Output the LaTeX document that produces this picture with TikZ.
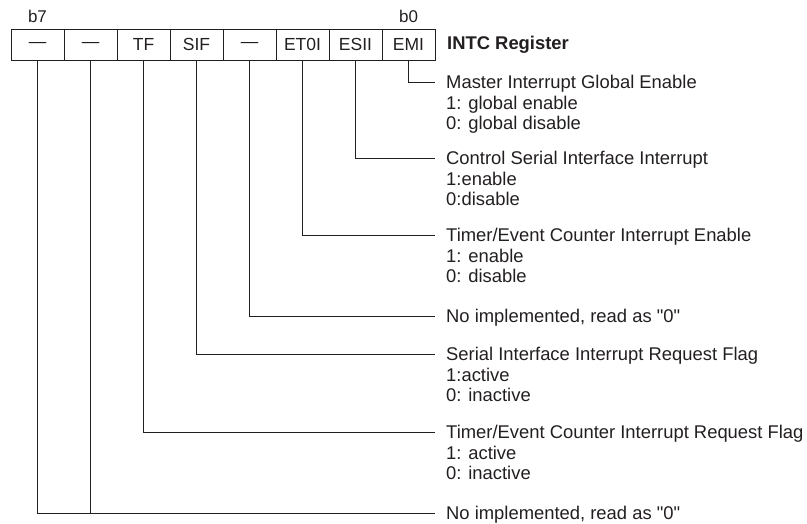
\documentclass[tikz,border=0pt]{standalone}
\usepackage{fontspec}
\setmainfont{Liberation Sans}
\definecolor{LineColor}{RGB}{35,31,32}
\definecolor{TextColor}{RGB}{35,31,32}
\usepackage{tikz}
\usetikzlibrary{positioning}
\tikzstyle{wire} = [line width=0.9pt, LineColor]
\tikzset{
  bitcell/.style={draw=LineColor, line width=0.9pt, rectangle, minimum width=53pt, minimum height=30.5pt, inner sep=0pt, outer sep=0pt, text=TextColor, font=\fontsize{17.5}{20}\selectfont},
  bitlabel/.style={inner sep=0pt, text=TextColor, font=\fontsize{17}{20}\selectfont},
  regname/.style={inner sep=0pt, text=TextColor, font=\fontsize{18.4}{20}\selectfont\bfseries},
  bitdesc/.style={anchor=north west, inner sep=0pt, align=left, text=TextColor, font=\fontsize{18.4}{20.5}\selectfont}
}

\begin{document}
\begin{tikzpicture}[x=1pt, y=-1pt]
  \useasboundingbox (0,0) rectangle (807,524);

  % Register cells, b7 ... b0
  \node[bitcell] (b7) at (37.5,44.75) {\textemdash};
  \node[bitcell, right=0pt of b7] (b6) {\textemdash};
  \node[bitcell, right=0pt of b6] (b5) {TF};
  \node[bitcell, right=0pt of b5] (b4) {SIF};
  \node[bitcell, right=0pt of b4] (b3) {\textemdash};
  \node[bitcell, right=0pt of b3] (b2) {ET0I};
  \node[bitcell, right=0pt of b2] (b1) {ESII};
  \node[bitcell, right=0pt of b1] (b0) {EMI};

  % Bit numbers
  \node[bitlabel, above=6.5pt of b7] (msb) {b7};
  \node[bitlabel, above=6.5pt of b0] (lsb) {b0};

  % Register name
  \node[regname, right=12pt of b0] (reg) {INTC Register};

  % Ends of the lead lines
  \coordinate (emi end) at (435,82);
  \coordinate (esii end) at (435,158);
  \coordinate (etoi end) at (435,235);
  \coordinate (nib3 end) at (435,316);
  \coordinate (sif end) at (435,354);
  \coordinate (tf end) at (435,432);
  \coordinate (nib76 end) at (435,513);

  % Bit descriptions
  \node[bitdesc] (emi text) at ([xshift=11pt, yshift=6.6pt]emi end)
    {Master Interrupt Global Enable\\1: global enable\\0: global disable};
  \node[bitdesc] (esii text) at ([xshift=11pt, yshift=6.6pt]esii end)
    {Control Serial Interface Interrupt\\1:enable\\0:disable};
  \node[bitdesc] (etoi text) at ([xshift=11pt, yshift=6.6pt]etoi end)
    {Timer/Event Counter Interrupt Enable\\1: enable\\0: disable};
  \node[bitdesc] (nib3 text) at ([xshift=11pt, yshift=6.6pt]nib3 end)
    {No implemented, read as \textquotedbl 0\textquotedbl};
  \node[bitdesc] (sif text) at ([xshift=11pt, yshift=6.6pt]sif end)
    {Serial Interface Interrupt Request Flag\\1:active\\0: inactive};
  \node[bitdesc] (tf text) at ([xshift=11pt, yshift=6.6pt]tf end)
    {Timer/Event Counter Interrupt Request Flag\\1: active\\0: inactive};
  \node[bitdesc] (nib76 text) at ([xshift=11pt, yshift=6.6pt]nib76 end)
    {No implemented, read as \textquotedbl 0\textquotedbl};

  % Lead lines from the bits
  \draw[wire] (b0.south) |- (emi end);
  \draw[wire] (b1.south) |- (esii end);
  \draw[wire] (b2.south) |- (etoi end);
  \draw[wire] (b3.south) |- (nib3 end);
  \draw[wire] (b4.south) |- (sif end);
  \draw[wire] (b5.south) |- (tf end);
  \draw[wire] (b7.south) |- (nib76 end);
  \draw[wire] (b6.south) -- (b6.south |- nib76 end);
\end{tikzpicture}
\end{document}
